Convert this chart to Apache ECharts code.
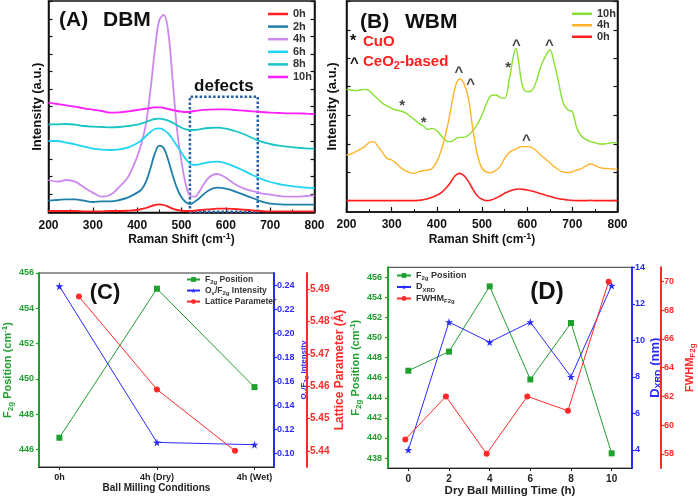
<!DOCTYPE html>
<html>
<head>
<meta charset="utf-8">
<script src="https://cdn.jsdelivr.net/npm/echarts@6/dist/echarts.min.js"></script>
<style>
html,body{margin:0;padding:0;background:#fff;}
#chart{width:698px;height:498px;}
</style>
</head>
<body>
<div id="chart"></div>
<script>
// (A) dry ball milling, raman spectra (a.u.)
const shiftA = [200,220,240,260,280,300,320,340,360,380,400,410,420,430,440,450,460,470,480,490,500,510,520,530,540,560,580,600,620,640,660,680,700,720,740,760,780,800];
const dbm0h = [17,17,17,17,16,16,16,17,17,18,20,23,26,31,35,37,35,30,24,20,18,17,17,18,20,22,24,24,23,21,19,17,16,16,16,16,16,16];
const dbm2h = [48,50,52,52,48,44,46,46,50,58,72,82,105,145,190,213,205,170,125,85,58,43,38,45,55,78,87,84,76,66,56,46,39,37,36,36,36,36];
const dbm4h = [110,105,110,105,88,72,60,66,90,120,180,222,280,380,500,590,605,555,410,260,165,95,62,60,75,115,128,117,98,85,77,70,66,62,60,60,62,64];
const dbm6h = [227,227,222,217,210,204,201,200,202,208,220,230,242,254,263,265,260,250,232,212,192,172,158,155,157,163,165,160,150,138,125,113,104,98,93,90,87,86];
const dbm8h = [277,277,278,276,272,270,269,268,269,272,276,280,284,289,293,294,292,288,282,274,267,262,260,260,262,266,267,264,257,248,236,225,218,213,210,207,205,204];
const dbm10h = [342,338,334,330,325,321,317,312,313,316,320,322,324,326,328,328,326,323,320,317,315,314,315,317,319,321,322,322,320,318,316,314,312,311,310,310,309,308];
const defectsRange = [519, 672];
const defectsInt = [15, 360];

// (B) wet ball milling
const shiftB = [200,210,220,230,240,250,260,270,280,290,300,310,320,330,340,350,360,370,380,390,400,410,420,430,440,450,460,470,480,490,500,510,520,530,540,550,560,570,575,580,590,600,610,620,630,640,650,660,670,680,690,700,710,720,730,740,750,760,770,780,790,800];
const wbm10h = [372,370,368,370,372,368,355,342,330,322,315,310,307,302,292,282,270,262,252,255,248,232,218,215,222,228,228,235,248,268,295,330,353,355,348,345,400,475,495,465,380,365,368,395,440,470,490,450,390,330,310,305,255,232,222,215,212,208,208,210,212,212];
const wbm4h = [175,178,185,192,200,212,215,200,182,165,160,150,137,128,122,120,125,128,130,135,155,190,240,305,375,403,390,345,250,175,135,124,122,128,140,165,182,190,193,197,200,200,198,188,175,164,152,140,130,124,122,125,130,134,142,148,144,137,135,134,133,132];
const wbm0h = [38,38,38,38,38,38,38,38,38,38,38,38,38,38,38,38,39,41,44,48,54,62,75,92,112,120,113,95,72,52,42,38,40,45,52,60,66,71,72,73,72,70,67,63,59,55,51,47,44,42,40,39,38,38,38,39,38,38,38,38,38,38];
const markShift = [323,371,449,475,558,576,649,598];
const markInt = [330,280,430,395,445,510,510,225];
const markText = ['*','*','^','^','*','^','^','^'];

// (C) ball milling conditions
const condLabels = ['0h','4h (Dry)','4h (Wet)'];
const condX = [0,1,2];
const f2gC = [446.66,455.11,449.53];
const ovF2g = [0.239,0.1094,0.1075];
const latticeX = [0.2,1,1.8];
const lattice = [5.4877,5.459,5.440];

// (D) dry ball milling time
const timeH = [0,2,4,6,8,10];
const f2gD = [446.7,448.6,455.1,445.83,451.45,438.47];
const dxrd = [4.0,11.0,9.9,11.0,8.0,13.0];
const fwhmX = [-0.15,1.85,3.85,5.85,7.85,9.85];
const fwhm = [59,62,58,62,61,70];

const FONT = 'Liberation Sans, Arial, sans-serif';
const GREEN = '#1fa02f', BLUE = '#2a2aff', RED = '#ff2a2a';
const STAR = 'path://M50,0 L61,35 L98,35 L68,57 L79,91 L50,70 L21,91 L32,57 L2,35 L39,35 Z';

function pairs(xs, ys){
    const out = [];
    for(let i = 0;i<xs.length;i++){
        out.push([xs[i], ys[i]]);
    }
    return out;
}
function range(a, b, step){
    const out = [];
    for(let v = a; v <= b + 1e-9; v += step){
        out.push(Math.round(v*1000)/1000);
    }
    return out;
}
function rs(color, size){
    const small = Math.round(size*0.72);
    return {
        n: {color: color, fontSize: size, fontWeight: 'bold', fontFamily: FONT, lineHeight: size + 3},
        s: {color: color, fontSize: small, fontWeight: 'bold', fontFamily: FONT, verticalAlign: 'bottom', lineHeight: small},
        p: {color: color, fontSize: small, fontWeight: 'bold', fontFamily: FONT, verticalAlign: 'top', lineHeight: small}
    };
}
// graphic text tokens take zrender's "fill" instead of "color"
function gs(color, size){
    const r = rs(color, size);
    Object.keys(r).forEach(k => { r[k].fill = color; });
    return r;
}

const ticksA = range(67.5, 645, 52.5);
const ticksB = [38,123,208,294,380,465,550,635];

function spectrumX(grid, name){
    return {
        gridIndex: grid, type: 'value', min: 200, max: 800, interval: 100,
        axisLine: {onZero: false, lineStyle: {color: '#111', width: 1.5}},
        axisTick: {inside: true, length: 5, lineStyle: {color: '#111', width: 1.2}},
        minorTick: {show: true, splitNumber: 2, length: 3, lineStyle: {color: '#111'}},
        splitLine: {show: false},
        axisLabel: {color: '#111', fontSize: 12, fontWeight: 'bold', fontFamily: FONT, margin: 7},
        name: name, nameLocation: 'middle', nameGap: 19,
        nameTextStyle: {rich: rs('#111', 12)}
    };
}
function spectrumY(grid, min, max, ticks, right, gap){
    return {
        gridIndex: grid, type: 'value', min: min, max: max, position: right ? 'right' : 'left',
        axisLine: {show: true, onZero: false, lineStyle: {color: '#111', width: 1.5}},
        axisTick: {show: true, inside: true, length: 4, customValues: ticks, lineStyle: {color: '#111', width: 1.2}},
        axisLabel: {show: false},
        splitLine: {show: false},
        name: right ? '' : 'Intensity (a.u.)', nameLocation: 'middle', nameGap: gap,
        nameTextStyle: {color: '#111', fontSize: 13, fontWeight: 'bold', fontFamily: FONT}
    };
}
function sideY(grid, color, min, max, labels, pos, offset, digits, name, nameSize, gap, margin, labelSize){
    return {
        gridIndex: grid, type: 'value', min: min, max: max, position: pos, offset: offset,
        axisLine: {show: true, onZero: false, lineStyle: {color: color, width: 2}},
        axisTick: {show: true, length: 3, customValues: labels, lineStyle: {color: color, width: 1.2}},
        axisLabel: {customValues: labels, color: color, fontSize: labelSize, fontWeight: 'bold', fontFamily: FONT, margin: margin,
            formatter: v => v.toFixed(digits)},
        splitLine: {show: false},
        name: name, nameLocation: 'middle', nameGap: gap,
        nameTextStyle: {rich: rs(color, nameSize)}
    };
}

function lineSeries(name, color, xs, ys, xi, yi, width){
    return {
        name: name, type: 'line', xAxisIndex: xi, yAxisIndex: yi,
        data: pairs(xs, ys), symbol: 'none', smooth: 0.4,
        color: color, lineStyle: {color: color, width: width}
    };
}
function pointSeries(name, color, xs, ys, xi, yi, symbol, size){
    return {
        name: name, type: 'line', xAxisIndex: xi, yAxisIndex: yi,
        data: pairs(xs, ys), symbol: symbol, symbolSize: size, showSymbol: true,
        color: color, itemStyle: {color: color}, lineStyle: {color: color, width: 1}
    };
}

const legendRich = {
    'F2g Position': '{n|F}{s|2g}{n| Position}',
    'Ov/F2g Intensity': '{n|O}{s|v}{n|/F}{s|2g}{n| Intensity}',
    'Lattice Parameter': '{n|Lattice Parameter}',
    'F2g Position ': '{n|F}{s|2g}{n| Position}',
    'DXRD': '{n|D}{s|XRD}',
    'FWHMF2g': '{n|FWHM}{s|F2g}'
};

const dbmSeries = [
    lineSeries('0h', '#ff1f1f', shiftA, dbm0h, 0, 0, 1.8),
    lineSeries('2h', '#1f7fa8', shiftA, dbm2h, 0, 0, 1.8),
    lineSeries('4h', '#cc88ee', shiftA, dbm4h, 0, 0, 1.8),
    lineSeries('6h', '#20d4f4', shiftA, dbm6h, 0, 0, 1.8),
    lineSeries('8h', '#18c4c4', shiftA, dbm8h, 0, 0, 1.8),
    lineSeries('10h', '#ff20ff', shiftA, dbm10h, 0, 0, 1.8)
];
dbmSeries[0].markArea = {
    silent: true,
    itemStyle: {color: 'rgba(0,0,0,0)', borderColor: '#2860a8', borderWidth: 2.5, borderType: [2.5, 2]},
    label: {show: true, position: 'top', distance: 1, formatter: 'defects', color: '#111', fontSize: 17, fontWeight: 'bold', fontFamily: FONT},
    data: [[{xAxis: defectsRange[0], yAxis: defectsInt[0]}, {xAxis: defectsRange[1], yAxis: defectsInt[1]}]]
};

const wbmSeries = [
    lineSeries('10h ', '#88e030', shiftB, wbm10h, 1, 2, 1.4),
    lineSeries('4h ', '#ffb428', shiftB, wbm4h, 1, 2, 1.4),
    lineSeries('0h ', '#ff1f1f', shiftB, wbm0h, 1, 2, 1.6),
    {
        type: 'scatter', xAxisIndex: 1, yAxisIndex: 2, silent: true,
        data: pairs(markShift, markInt), symbolSize: 1, itemStyle: {color: 'rgba(0,0,0,0)'},
        label: {show: true, position: 'inside', offset: [0, 3], formatter: p => markText[p.dataIndex],
            color: '#111', fontSize: 15, fontWeight: 'bold', fontFamily: FONT}
    }
];

const spectrumLegend = {
    orient: 'vertical', padding: 0, icon: 'rect', itemWidth: 20, itemHeight: 2.5, itemGap: 0.6,
    textStyle: {color: '#333', fontSize: 11, fontWeight: 'bold', fontFamily: FONT, lineHeight: 12}
};

const option = {
    animation: false,
    backgroundColor: '#fff',
    textStyle: {fontFamily: FONT},
    grid: [
        {left: 48.5, top: 1, width: 266, height: 211.5, show: true, borderColor: '#111', borderWidth: 1.5},
        {left: 346.5, top: 1, width: 271, height: 211, show: true, borderColor: '#111', borderWidth: 1.5},
        {left: 32, top: 273, width: 242, height: 194, show: true, borderColor: '#333', borderWidth: 1},
        {left: 388, top: 267.3, width: 248, height: 201, show: true, borderColor: '#333', borderWidth: 1}
    ],
    xAxis: [
        spectrumX(0, '{n|Raman Shift (cm}{p|-1}{n|)}'),
        spectrumX(1, '{n|Raman Shift (cm}{p|-1}{n|)}'),
        {
            gridIndex: 2, type: 'value', min: -0.21, max: 2.2,
            axisLine: {onZero: false, lineStyle: {color: '#222', width: 1.2}},
            axisTick: {customValues: condX, length: 3, lineStyle: {color: '#222'}},
            axisLabel: {customValues: condX, color: '#222', fontSize: 9, fontWeight: 'bold', fontFamily: FONT, margin: 6,
                formatter: v => condLabels[Math.round(v)] || ''},
            splitLine: {show: false},
            name: 'Ball Milling Conditions', nameLocation: 'middle', nameGap: 16,
            nameTextStyle: {color: '#222', fontSize: 10, fontWeight: 'bold', fontFamily: FONT}
        },
        {
            gridIndex: 3, type: 'value', min: -1, max: 11,
            axisLine: {onZero: false, lineStyle: {color: '#222', width: 1.2}},
            axisTick: {customValues: timeH, length: 3, lineStyle: {color: '#222'}},
            axisLabel: {customValues: timeH, color: '#222', fontSize: 10, fontWeight: 'bold', fontFamily: FONT, margin: 6},
            splitLine: {show: false},
            name: 'Dry Ball Milling Time (h)', nameLocation: 'middle', nameGap: 16,
            nameTextStyle: {color: '#222', fontSize: 11.5, fontWeight: 'bold', fontFamily: FONT}
        }
    ],
    yAxis: [
        spectrumY(0, 12.5, 647, ticksA, false, 5),
        spectrumY(0, 12.5, 647, ticksA, true, 0),
        spectrumY(1, 4, 637, ticksB, false, 8),
        spectrumY(1, 4, 637, ticksB, true, 0),
        sideY(2, GREEN, 445, 456, range(446, 456, 2), 'left', 0, 0, '{n|F}{s|2g}{n| Position (cm}{p|-1}{n|)}', 11, 19, 5, 9),
        sideY(2, BLUE, 0.089, 0.25, range(0.10, 0.24, 0.02), 'right', 0, 2, '{n|O}{s|v}{n|/F}{s|2g}{n| Intensity}', 8, 24, 3, 9),
        sideY(2, RED, 5.435, 5.495, range(5.44, 5.49, 0.01), 'right', 33, 2, '{n|Lattice Parameter (Å)}', 12, 22, 3, 10),
        sideY(3, GREEN, 437, 457, range(438, 456, 2), 'left', 0, 0, '{n|F}{s|2g}{n| Position (cm}{p|-1}{n|)}', 11, 24, 6, 9),
        sideY(3, BLUE, 3, 14, range(4, 14, 2), 'right', 0, 0, '{n|D}{s|XRD}{n| (nm)}', 13, 13, 3, 9),
        sideY(3, RED, 57, 71, range(58, 70, 2), 'right', 29, 0, '{n|FWHM}{s|F2g}', 11, 22, 3, 9)
    ],
    legend: [
        Object.assign({}, spectrumLegend, {left: 268, top: 8, data: ['0h','2h','4h','6h','8h','10h']}),
        Object.assign({}, spectrumLegend, {left: 572, top: 8, itemGap: 0, data: ['10h ','4h ','0h '],
            textStyle: Object.assign({}, spectrumLegend.textStyle, {lineHeight: 11.5})}),
        {
            left: 186, top: 275, orient: 'vertical', padding: 0, itemWidth: 13, itemHeight: 6, itemGap: 0.8,
            data: ['F2g Position','Ov/F2g Intensity','Lattice Parameter'],
            formatter: n => legendRich[n],
            textStyle: {rich: rs('#333', 8.5)}
        },
        {
            left: 396, top: 271, orient: 'vertical', padding: 0, itemWidth: 14, itemHeight: 6, itemGap: 1,
            data: ['F2g Position ','DXRD','FWHMF2g'],
            formatter: n => legendRich[n],
            textStyle: {rich: rs('#333', 9)}
        }
    ],
    graphic: [
        {type: 'text', x: 59, y: 20, style: {text: '(A)', font: 'bold 21px ' + FONT, fill: '#111', verticalAlign: 'middle'}},
        {type: 'text', x: 103, y: 20, style: {text: 'DBM', font: 'bold 21px ' + FONT, fill: '#111', verticalAlign: 'middle'}},
        {type: 'text', x: 360, y: 22, style: {text: '(B)', font: 'bold 21px ' + FONT, fill: '#111', verticalAlign: 'middle'}},
        {type: 'text', x: 405, y: 22, style: {text: 'WBM', font: 'bold 21px ' + FONT, fill: '#111', verticalAlign: 'middle'}},
        {type: 'text', x: 350, y: 42, style: {text: '*', font: 'bold 16px ' + FONT, fill: '#111', verticalAlign: 'middle'}},
        {type: 'text', x: 363, y: 42, style: {text: 'CuO', font: 'bold 15px ' + FONT, fill: '#ff1f1f', verticalAlign: 'middle'}},
        {type: 'text', x: 350, y: 64, style: {text: '^', font: 'bold 15px ' + FONT, fill: '#111', verticalAlign: 'middle'}},
        {type: 'text', x: 363, y: 62, style: {text: '{n|CeO}{s|2}{n|-based}', verticalAlign: 'middle', rich: gs('#ff1f1f', 15)}},
        {type: 'text', x: 105, y: 293, style: {text: '(C)', font: 'bold 22px ' + FONT, fill: '#111', align: 'center', verticalAlign: 'middle'}},
        {type: 'text', x: 547, y: 292, style: {text: '(D)', font: 'bold 24px ' + FONT, fill: '#111', align: 'center', verticalAlign: 'middle'}}
    ],
    series: [
        ...dbmSeries,
        ...wbmSeries,
        pointSeries('F2g Position', GREEN, condX, f2gC, 2, 4, 'rect', 6),
        pointSeries('Ov/F2g Intensity', BLUE, condX, ovF2g, 2, 5, STAR, 8),
        pointSeries('Lattice Parameter', RED, latticeX, lattice, 2, 6, 'circle', 6),
        pointSeries('F2g Position ', GREEN, timeH, f2gD, 3, 7, 'rect', 6),
        pointSeries('DXRD', BLUE, timeH, dxrd, 3, 8, STAR, 8),
        pointSeries('FWHMF2g', RED, fwhmX, fwhm, 3, 9, 'circle', 6)
    ]
};

const myChart = echarts.init(document.getElementById('chart'), null, {renderer: 'canvas'});
myChart.setOption(option);
</script>
</body>
</html>
